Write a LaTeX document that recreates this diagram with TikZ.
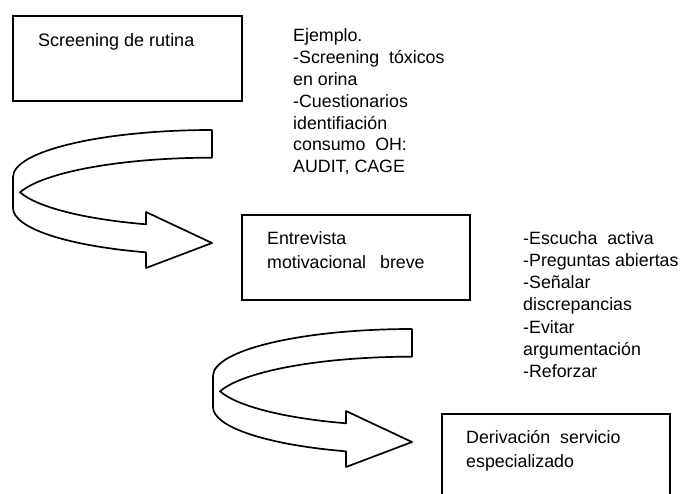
\documentclass[tikz,border=0pt]{standalone}
\usepackage{fontspec}
\setmainfont{Liberation Sans}
\begin{document}
\begin{tikzpicture}[x=1pt,y=1pt,
  box/.style={draw, line width=1.7pt, inner sep=0, anchor=north west},
  lbl/.style={inner sep=0, anchor=base west, align=left},
  band/.style={draw, line width=1.7pt, fill=white, line join=round},
  curvearrow/.pic={
    \draw[band] (212,363)
      arc[start angle=90, end angle=180, x radius=199, y radius=47]
      -- (13,285)
      arc[start angle=180, end angle=250.63, x radius=199, y radius=47]
      -- (146,225) -- (212,250) -- (146,281) -- (146,268.7)
      arc[start angle=250.63, end angle=195.25, x radius=199, y radius=47]
      arc[start angle=164.75, end angle=90, x radius=199, y radius=47]
      -- cycle;
  }]
\clip (0,0) rectangle (684,493);
\fill[white] (0,0) rectangle (684,493);

% boxes
\node[box, minimum width=229pt, minimum height=85pt] (b1) at (12,478) {};
\node[box, minimum width=228pt, minimum height=85pt] (b2) at (241,279) {};
\node[box, minimum width=228pt, minimum height=110pt] (b3) at (441,80) {};

% curved arrows
\pic (a1) at (0,0) {curvearrow};
\pic (a2) at (200,-199) {curvearrow};

% texts (base anchor = baseline of the last line)
\node[lbl, font=\fontsize{18}{22}\selectfont] (t1) at (38,446) {Screening de rutina};
\node[lbl, font=\fontsize{17.8}{21.8}\selectfont] (t2) at (293,320.3)
  {Ejemplo.\\-Screening\ \ tóxicos\\en orina\\-Cuestionarios\\identifiación\\consumo\ \ OH:\\AUDIT, CAGE};
\node[lbl, font=\fontsize{17.8}{24}\selectfont] (t3) at (267,225)
  {Entrevista\\motivacional\hspace{14pt}breve};
\node[lbl, font=\fontsize{17.8}{22.3}\selectfont] (t4) at (523,115.2)
  {-Escucha\ \ activa\\-Preguntas abiertas\\-Señalar\\discrepancias\\-Evitar\\argumentación\\-Reforzar};
\node[lbl, font=\fontsize{17.8}{24}\selectfont] (t5) at (466,26)
  {Derivación\ \ servicio\\especializado};
\end{tikzpicture}
\end{document}
